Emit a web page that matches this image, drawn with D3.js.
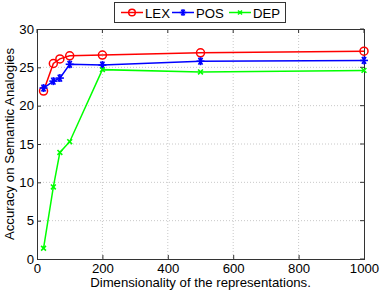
<!DOCTYPE html>
<html>
<head>
<meta charset="utf-8">
<script src="https://cdn.jsdelivr.net/npm/d3@7"></script>
<style>
  body { margin: 0; background: #fff; }
  svg { font-family: "Liberation Sans", Arial, sans-serif; }
</style>
</head>
<body>
<svg id="chart" width="382" height="292"></svg>
<script>
// dimensions on the x axis
var dims = [20, 50, 70, 100, 200, 500, 1000];
var lex = [21.9, 25.5, 26.1, 26.5, 26.6, 26.9, 27.1];
var pos = [22.3, 23.2, 23.6, 25.4, 25.3, 25.8, 25.9];
var dep = [1.4, 9.4, 13.9, 15.3, 24.7, 24.4, 24.6];
var xTicks = [0, 200, 400, 600, 800, 1000];
var yTicks = [0, 5, 10, 15, 20, 25, 30];

var series = [
  { name: 'LEX', values: lex, color: '#ff0000', marker: 'circle' },
  { name: 'POS', values: pos, color: '#0000ff', marker: 'star' },
  { name: 'DEP', values: dep, color: '#00ff00', marker: 'cross' }
];

var svg = d3.select('#chart');
var M = { left: 37, right: 364, top: 29, bottom: 259 };
var FS = 13.2;

var x = d3.scaleLinear().domain([0, 1000]).range([M.left, M.right]);
var y = d3.scaleLinear().domain([0, 30]).range([M.bottom, M.top]);

// grid
var grid = svg.append('g');
grid.selectAll('.gx').data(xTicks.slice(1, -1)).enter().append('line')
  .attr('x1', function(d) { return x(d); }).attr('x2', function(d) { return x(d); })
  .attr('y1', M.top).attr('y2', M.bottom)
  .attr('stroke', '#c8c8c8').attr('stroke-width', 1).attr('stroke-dasharray', '1,2');
grid.selectAll('.gy').data(yTicks.slice(1, -1)).enter().append('line')
  .attr('y1', function(d) { return y(d); }).attr('y2', function(d) { return y(d); })
  .attr('x1', M.left).attr('x2', M.right)
  .attr('stroke', '#c8c8c8').attr('stroke-width', 1).attr('stroke-dasharray', '1,2');

// axes
var xAxis = svg.append('g').attr('transform', 'translate(0,' + M.bottom + ')')
  .call(d3.axisBottom(x).tickValues(xTicks).tickFormat(d3.format('d'))
    .tickSize(-4).tickPadding(5).tickSizeOuter(0));
var yAxis = svg.append('g').attr('transform', 'translate(' + M.left + ',0)')
  .call(d3.axisLeft(y).tickValues(yTicks).tickSize(-4).tickPadding(3).tickSizeOuter(0));
[xAxis, yAxis].forEach(function(a) {
  a.selectAll('text').attr('font-size', FS).attr('fill', '#000')
    .attr('font-family', '"Liberation Sans", Arial, sans-serif');
  a.selectAll('line').attr('stroke', '#333');
  a.select('.domain').remove();
});

// top / right ticks
svg.append('g').selectAll('line').data(xTicks).enter().append('line')
  .attr('x1', function(d) { return x(d); }).attr('x2', function(d) { return x(d); })
  .attr('y1', M.top).attr('y2', M.top + 4).attr('stroke', '#333');
svg.append('g').selectAll('line').data(yTicks).enter().append('line')
  .attr('y1', function(d) { return y(d); }).attr('y2', function(d) { return y(d); })
  .attr('x1', M.right).attr('x2', M.right - 4).attr('stroke', '#333');

svg.append('rect')
  .attr('x', M.left + 0.5).attr('y', M.top + 0.5)
  .attr('width', M.right - M.left).attr('height', M.bottom - M.top)
  .attr('fill', 'none').attr('stroke', '#333').attr('stroke-width', 1);

function drawMarker(g, type, cx, cy, color, s) {
  if (type === 'circle') {
    g.append('circle').attr('cx', cx).attr('cy', cy).attr('r', s)
      .attr('fill', 'none').attr('stroke', color).attr('stroke-width', 1.5);
  } else {
    var angles = type === 'cross' ? [45, 135] : [0, 60, 120, 90];
    var r = type === 'cross' ? s * 0.85 : s;
    angles.forEach(function(a) {
      var rad = a * Math.PI / 180;
      g.append('line')
        .attr('x1', cx - r * Math.cos(rad)).attr('y1', cy - r * Math.sin(rad))
        .attr('x2', cx + r * Math.cos(rad)).attr('y2', cy + r * Math.sin(rad))
        .attr('stroke', color).attr('stroke-width', 1.6);
    });
  }
}

var line = d3.line()
  .x(function(d, i) { return x(dims[i]); })
  .y(function(d) { return y(d); });

series.forEach(function(s) {
  var g = svg.append('g');
  g.append('path').datum(s.values).attr('d', line)
    .attr('fill', 'none').attr('stroke', s.color).attr('stroke-width', 1.5);
  s.values.forEach(function(v, i) {
    drawMarker(g, s.marker, x(dims[i]), y(v), s.color, 4);
  });
});

// legend
var lg = svg.append('g');
lg.append('rect').attr('x', 114.5).attr('y', 2.5).attr('width', 171).attr('height', 20)
  .attr('fill', '#fff').attr('stroke', '#333').attr('stroke-width', 1);
var lx = [121, 172, 229];
series.forEach(function(s, i) {
  lg.append('line').attr('x1', lx[i]).attr('x2', lx[i] + 22).attr('y1', 12.5).attr('y2', 12.5)
    .attr('stroke', s.color).attr('stroke-width', 1.5);
  drawMarker(lg, s.marker, lx[i] + 11, 12.5, s.color, 3.3);
  lg.append('text').attr('x', lx[i] + 24).attr('y', 17.5).attr('font-size', FS)
    .text(s.name);
});

// axis labels
svg.append('text').attr('x', (M.left + M.right) / 2).attr('y', 287)
  .attr('text-anchor', 'middle').attr('font-size', FS)
  .text('Dimensionality of the representations.');
svg.append('text')
  .attr('transform', 'translate(14,' + ((M.top + M.bottom) / 2) + ') rotate(-90)')
  .attr('text-anchor', 'middle').attr('font-size', FS)
  .text('Accuracy on Semantic Analogies');
</script>
</body>
</html>
